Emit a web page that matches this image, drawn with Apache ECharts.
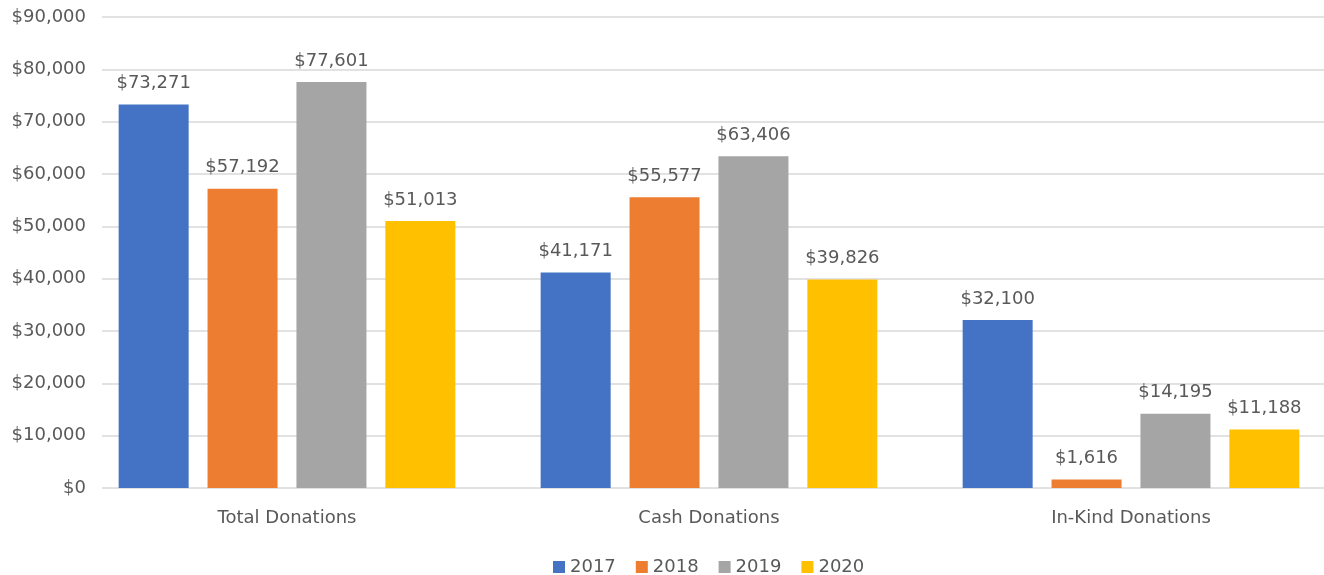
<!DOCTYPE html>
<html>
<head>
<meta charset="utf-8">
<script src="https://cdn.jsdelivr.net/npm/echarts@6/dist/echarts.min.js"></script>
<style>
  html, body { margin: 0; padding: 0; background: #fff; }
  #chart { width: 1324px; height: 575px; }
</style>
</head>
<body>
<div id="chart"></div>
<script>
// categories and series values
const categories = ['Total Donations', 'Cash Donations', 'In-Kind Donations'];
const years = ['2017', '2018', '2019', '2020'];
const values2017 = [73271, 41171, 32100];
const values2018 = [57192, 55577, 1616];
const values2019 = [77601, 63406, 14195];
const values2020 = [51013, 39826, 11188];
const colors = ['#4472C4', '#ED7D31', '#A5A5A5', '#FFC000'];

const font = 'DejaVu Sans';
const textColor = '#595959';
const money = (v) => '$' + v.toLocaleString('en-US');

const myChart = echarts.init(document.getElementById('chart'));

// grid 0 carries the value axis and gridlines, grid 1 carries the bars
const yBase = { type: 'value', min: 0, max: 90000, interval: 10000 };

const seriesData = [values2017, values2018, values2019, values2020];
const series = seriesData.map((d, i) => ({
    name: years[i],
    type: 'bar',
    xAxisIndex: 1,
    yAxisIndex: 1,
    data: d,
    barWidth: 70,
    barGap: '27%',
    itemStyle: { color: colors[i] },
    label: {
        show: true,
        position: 'top',
        distance: 12,
        formatter: (p) => money(p.value),
        fontFamily: font,
        fontSize: 18,
        color: textColor
    }
}));

const option = {
    animation: false,
    textStyle: { fontFamily: font },
    grid: [
        { left: 102, right: 0, top: 17, bottom: 87, outerBoundsMode: 'none' },
        { left: 76, width: 1266, top: 17, bottom: 87, outerBoundsMode: 'none' }
    ],
    xAxis: [
        { gridIndex: 0, type: 'category', data: categories, show: false },
        {
            gridIndex: 1,
            type: 'category',
            data: categories,
            axisLine: { show: false },
            axisTick: { show: false },
            axisLabel: { margin: 21, fontFamily: font, fontSize: 18, color: textColor }
        }
    ],
    yAxis: [
        Object.assign({}, yBase, {
            gridIndex: 0,
            axisLine: { show: false },
            axisTick: { show: false },
            splitLine: { lineStyle: { color: '#D9D9D9', width: 1.5 } },
            axisLabel: { margin: 16, formatter: money, fontFamily: font, fontSize: 18, color: textColor }
        }),
        Object.assign({}, yBase, { gridIndex: 1, show: false, splitLine: { show: false } })
    ],
    legend: {
        data: years,
        left: 548,
        top: 553,
        itemWidth: 12,
        itemHeight: 12,
        itemGap: 20,
        icon: 'rect',
        textStyle: { fontFamily: font, fontSize: 18, color: textColor }
    },
    series: series
};

option && myChart.setOption(option);
</script>
</body>
</html>
